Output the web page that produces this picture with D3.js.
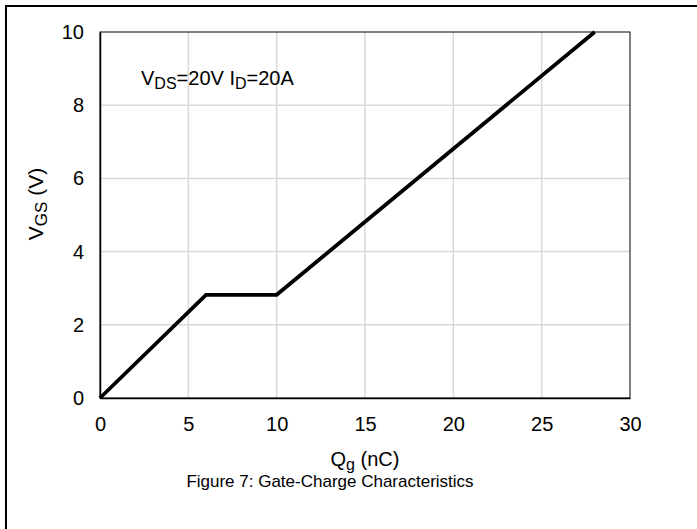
<!DOCTYPE html>
<html><head><meta charset="utf-8">
<script src="https://cdn.jsdelivr.net/npm/d3@7"></script>
<style>body{margin:0;background:#fff}svg{display:block}text{font-family:"Liberation Sans",Arial,sans-serif;fill:#000}</style>
</head><body>
<svg id="c" width="697" height="529"></svg>
<script>
const qg = [0, 6, 10, 28];
const vgs = [0, 2.82, 2.82, 10];
const xTicks = [0, 5, 10, 15, 20, 25, 30];
const yTicks = [0, 2, 4, 6, 8, 10];

const svg = d3.select("#c");
const m = {l:100, r:630, t:32, b:398};
const x = d3.scaleLinear().domain([0,30]).range([m.l, m.r]);
const y = d3.scaleLinear().domain([0,10]).range([m.b, m.t]);
const FF = "Liberation Sans, Arial, sans-serif";

svg.append("rect").attr("x",6).attr("y",6).attr("width",720).attr("height",560)
  .attr("fill","none").attr("stroke","#000").attr("stroke-width",2);

// grid
svg.append("g").selectAll("line").data(xTicks.slice(1,-1)).join("line")
  .attr("x1",d=>x(d)).attr("x2",d=>x(d)).attr("y1",m.t).attr("y2",m.b)
  .attr("stroke","#d9d9d9").attr("stroke-width",1.5);
svg.append("g").selectAll("line").data(yTicks.slice(1,-1)).join("line")
  .attr("y1",d=>y(d)).attr("y2",d=>y(d)).attr("x1",m.l).attr("x2",m.r)
  .attr("stroke","#d9d9d9").attr("stroke-width",1.5);

// plot frame
svg.append("rect").attr("x",m.l).attr("y",m.t).attr("width",m.r-m.l).attr("height",m.b-m.t)
  .attr("fill","none").attr("stroke","#000").attr("stroke-width",1);

// axes
const xa = svg.append("g").attr("transform",`translate(0,${m.b})`)
  .call(d3.axisBottom(x).tickValues(xTicks).tickSize(0).tickPadding(19));
xa.attr("font-size",20).attr("font-family",FF);
xa.select(".domain").attr("stroke","#000").attr("stroke-width",1.5);
const ya = svg.append("g").attr("transform",`translate(${m.l},0)`)
  .call(d3.axisLeft(y).tickValues(yTicks).tickSize(0).tickPadding(16));
ya.attr("font-size",20).attr("font-family",FF);
ya.select(".domain").attr("stroke","#000").attr("stroke-width",1.5);

// line
svg.append("path").datum(qg.map((d,i)=>[d,vgs[i]]))
  .attr("d", d3.line().x(d=>x(d[0])).y(d=>y(d[1])))
  .attr("fill","none").attr("stroke","#000").attr("stroke-width",3.8).attr("stroke-linejoin","miter");

// annotation
const a = svg.append("text").attr("x",141).attr("y",85).attr("font-size",20);
a.append("tspan").text("V");
a.append("tspan").text("DS").attr("font-size",16).attr("dy",4);
a.append("tspan").text("=20V I").attr("dy",-4);
a.append("tspan").text("D").attr("font-size",16).attr("dy",4);
a.append("tspan").text("=20A").attr("dy",-4);

// x title
const xt = svg.append("text").attr("x",365).attr("y",466).attr("text-anchor","middle").attr("font-size",20);
xt.append("tspan").text("Q");
xt.append("tspan").text("g").attr("font-size",16).attr("dy",4);
xt.append("tspan").text(" (nC)").attr("dy",-4);

// y title
const yt = svg.append("text").attr("transform","translate(43,204) rotate(-90)").attr("text-anchor","middle").attr("font-size",21);
yt.append("tspan").text("V");
yt.append("tspan").text("GS").attr("font-size",17).attr("dy",4);
yt.append("tspan").text(" (V)").attr("dy",-4);

// caption
svg.append("text").attr("x",330).attr("y",487).attr("text-anchor","middle").attr("font-size",17)
  .text("Figure 7: Gate-Charge Characteristics");
</script>
</body></html>
